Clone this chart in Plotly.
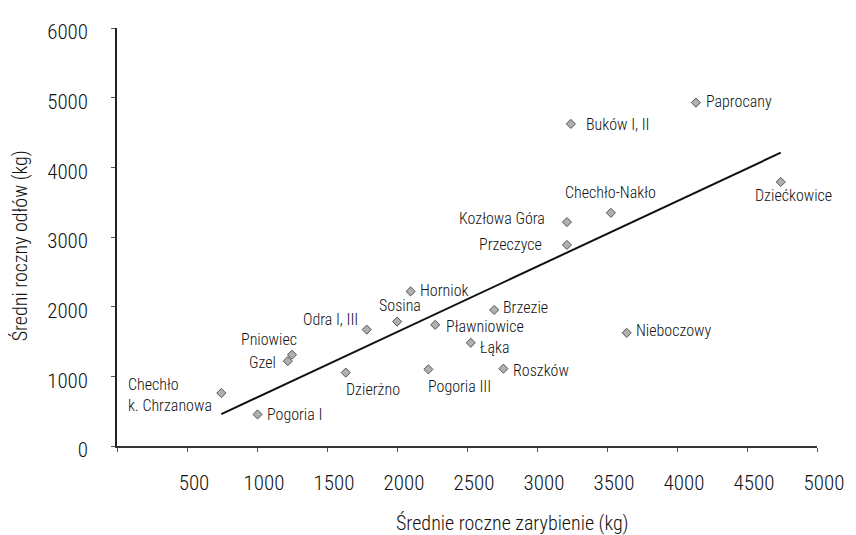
import plotly.graph_objects as go

# ---- data ----
names = ["Chechło<br>k. Chrzanowa", "Pogoria I", "Pniowiec", "Gzel", "Odra I, III", "Sosina",
         "Horniok", "Dzierżno", "Pogoria III", "Pławniowice", "Brzezie", "Łąka", "Roszków",
         "Nieboczowy", "Przeczyce", "Kozłowa Góra", "Chechło-Nakło", "Buków I, II",
         "Paprocany", "Dziećkowice"]
stocking = [745, 1004, 1250, 1220, 1784, 2001, 2097, 1634, 2224, 2273, 2694, 2527, 2760,
            3641, 3214, 3214, 3528, 3242, 4135, 4741]
catch = [760, 453, 1310, 1219, 1671, 1786, 2219, 1053, 1100, 1739, 1953, 1481, 1110,
         1624, 2886, 3214, 3347, 4624, 4929, 3790]
trend_x = [745, 4741]
trend_y = [457, 4210]
x_ticks = [0, 500, 1000, 1500, 2000, 2500, 3000, 3500, 4000, 4500, 5000]
x_ticktext = ["", "500", "1000", "1500", "2000", "2500", "3000", "3500", "4000", "4500", "5000"]
y_ticks = [0, 1000, 2000, 3000, 4000, 5000, 6000]
x_title = "Średnie roczne zarybienie (kg)"
y_title = "Średni roczny odłów (kg)"

# ---- label placement (style) : xanchor, xshift, yshift ----
label_pos = [("right", -7, -2), ("left", 7, 0), ("center", -23, 15), ("right", -10, -1),
             ("right", -7, 10), ("center", 3, 16), ("left", 7, 1), ("center", 27, -17),
             ("left", -2, -17), ("left", 9, -2), ("left", 7, 2), ("left", 7, -5),
             ("left", 8, -2), ("left", 7, 2), ("right", -23, 0), ("right", -20, 4),
             ("center", 0, 20), ("left", 13, -1), ("left", 8, 1), ("center", 13, -14)]

FONT = "Roboto Condensed, Liberation Sans Narrow, Arial Narrow, sans-serif"
W = 300
TXT = "#111111"

fig = go.Figure()
fig.add_trace(go.Scatter(x=trend_x, y=trend_y, mode="lines",
                         line=dict(color="#111111", width=2), hoverinfo="skip"))
fig.add_trace(go.Scatter(x=stocking, y=catch, mode="markers",
                         marker=dict(symbol="diamond", size=7, color="#b0b0b0",
                                     line=dict(color="#555555", width=1)),
                         text=names, hoverinfo="text+x+y"))

for n, xv, yv, (xa, xs, ys) in zip(names, stocking, catch, label_pos):
    fig.add_annotation(x=xv, y=yv, xref="x", yref="y", text=n, showarrow=False,
                       xanchor=xa, yanchor="middle", xshift=xs, yshift=ys, align="left",
                       font=dict(family=FONT, size=16, color=TXT, weight=W))

fig.add_annotation(xref="paper", yref="paper", x=0.5656, y=-0.1833, text=x_title,
                   showarrow=False, xanchor="center", yanchor="middle",
                   font=dict(family=FONT, size=20, color=TXT, weight=W))
fig.add_annotation(xref="paper", yref="paper", x=-0.138, y=0.4786, text=y_title,
                   showarrow=False, xanchor="center", yanchor="middle", textangle=-90,
                   font=dict(family=FONT, size=20, color=TXT, weight=W))

fig.update_layout(
    width=848, height=527,
    margin=dict(l=109, r=30, t=18, b=89),
    paper_bgcolor="white", plot_bgcolor="white",
    showlegend=False,
    font=dict(family=FONT, color=TXT, weight=W),
    xaxis=dict(range=[0, 5000], tickvals=x_ticks, ticktext=x_ticktext,
               showgrid=False, zeroline=False, showline=True, linecolor="#333333", linewidth=1.5,
               ticks="outside", ticklen=4, tickcolor="#555555", tickwidth=1,
               tickfont=dict(family=FONT, size=21, color=TXT, weight=W),
               ticklabelshift=7, ticklabelstandoff=13),
    yaxis=dict(range=[0, 6000], tickvals=y_ticks,
               showgrid=False, zeroline=False, showline=True, linecolor="#222222", linewidth=1.5,
               ticks="outside", ticklen=4, tickcolor="#555555", tickwidth=1,
               tickfont=dict(family=FONT, size=21, color=TXT, weight=W),
               ticklabelshift=4, ticklabelstandoff=19),
)

fig.write_html("out.html")
